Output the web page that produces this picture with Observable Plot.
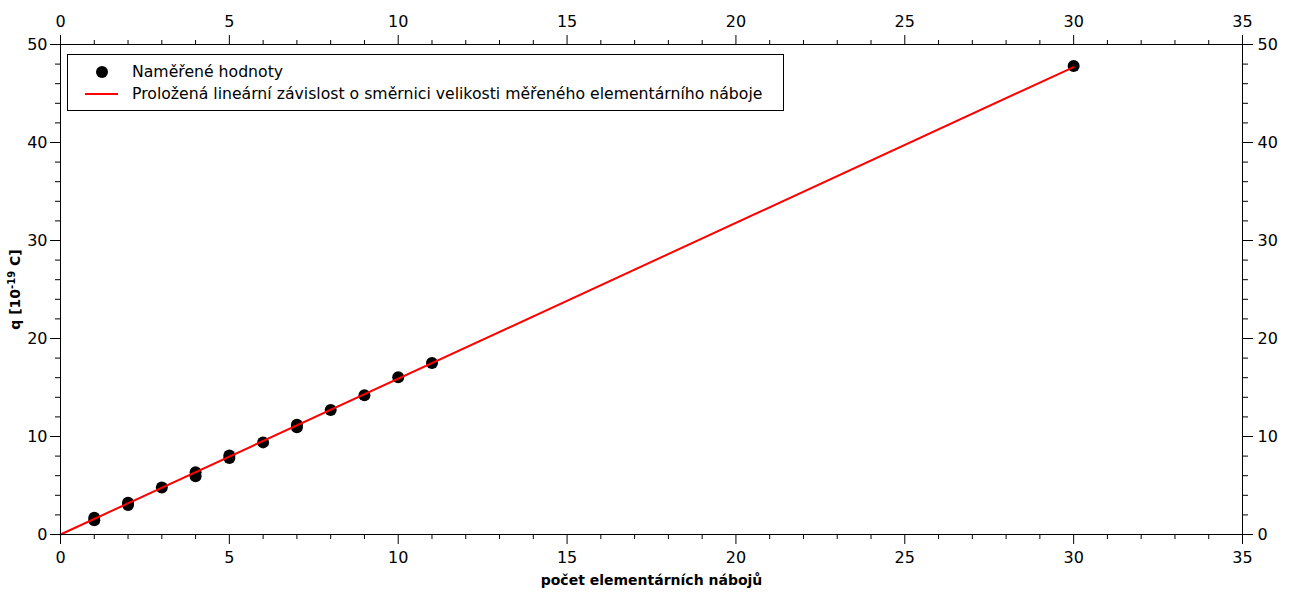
<!DOCTYPE html>
<html>
<head>
<meta charset="utf-8">
<script src="https://cdn.jsdelivr.net/npm/d3@7"></script>
<script src="https://cdn.jsdelivr.net/npm/@observablehq/plot@0.6"></script>
<style>
  body { margin: 0; background: #fff; }
  #wrap { position: relative; width: 1290px; height: 594px; }
  #legend { position: absolute; left: 67px; top: 54px; width: 717px; height: 57px; border: 1px solid #000;
            background: #fff; box-sizing: border-box; font-family: "DejaVu Sans", sans-serif; font-size: 15.7px; color: #000; }
  #legend .row { position: absolute; left: 0; height: 20px; line-height: 20px; }
  #legend .txt { position: absolute; left: 64px; white-space: nowrap; }
  #legend .dot { position: absolute; left: 28px; top: 4px; width: 12px; height: 12px; border-radius: 50%; background: #000; }
  #legend .ln { position: absolute; left: 17px; top: 9px; width: 33px; height: 2px; background: #ff0000; }
  svg text { font-family: "DejaVu Sans", sans-serif; }
  svg g[aria-label="x-axis tick label"], svg g[aria-label="y-axis tick label"] { font-size: 16px; }
  svg g[aria-label="x-axis label"], svg g[aria-label="y-axis label"] { font-weight: bold; font-size: 14px; }
</style>
</head>
<body>
<div id="wrap">
  <div id="chart"></div>
  <div id="legend"></div>
</div>
<script>
// measured data: number of elementary charges vs. charge q [1e-19 C]
const nCharges = [1, 1, 2, 2, 3, 4, 4, 5, 5, 6, 7, 7, 8, 9, 10, 11, 30];
const qValues  = [1.45, 1.7, 3.0, 3.25, 4.8, 5.95, 6.35, 7.8, 8.05, 9.4, 10.95, 11.2, 12.7, 14.2, 16.05, 17.5, 47.8];
// fitted linear dependence (slope = measured elementary charge)
const fitN = [0, 30];
const fitQ = [0, 47.7];
// ticks
const xTicks = [0, 5, 10, 15, 20, 25, 30, 35];
const xMinor = [1,2,3,4,6,7,8,9,11,12,13,14,16,17,18,19,21,22,23,24,26,27,28,29,31,32,33,34];
const yTicks = [0, 10, 20, 30, 40, 50];
const yMinor = [2,4,6,8,12,14,16,18,22,24,26,28,32,34,36,38,42,44,46,48];
const legendLabels = ["Naměřené hodnoty", "Proložená lineární závislost o směrnici velikosti měřeného elementárního náboje"];
const xLabel = "počet elementárních nábojů";
const yLabelBase = "q [10";
const yLabelExp = "-19";
const yLabelUnit = " C]";

const points = nCharges.map((n, i) => ({n, q: qValues[i]}));
const fit = fitN.map((n, i) => ({n, q: fitQ[i]}));

const major = {tickSize: 10, stroke: "#000"};
const plot = Plot.plot({
  width: 1290,
  height: 594,
  marginLeft: 60,
  marginRight: 48,
  marginTop: 44,
  marginBottom: 60,
  style: {fontFamily: "DejaVu Sans", fontSize: "16px", color: "#000", background: "#fff"},
  x: {domain: [0, 35]},
  y: {domain: [0, 50]},
  marks: [
    Plot.dot(points, {x: "n", y: "q", r: 6, fill: "#000", stroke: "none"}),
    Plot.line(fit, {x: "n", y: "q", stroke: "#ff0000", strokeWidth: 2}),
    Plot.frame({stroke: "#000"}),
    Plot.axisX({anchor: "bottom", ticks: xTicks, ...major, tickPadding: 7, label: xLabel, labelAnchor: "center", labelOffset: 50, labelArrow: false}),
    Plot.axisX({anchor: "top", ticks: xTicks, ...major, tickPadding: 8, label: null}),
    Plot.axisY({anchor: "left", ticks: yTicks, ...major, tickPadding: 3, label: yLabelBase + yLabelExp + yLabelUnit, labelAnchor: "center", labelOffset: 50, labelArrow: false}),
    Plot.axisY({anchor: "right", ticks: yTicks, ...major, tickPadding: 5, label: null}),
    Plot.axisX({anchor: "bottom", ticks: xMinor, tickSize: 5, tickFormat: () => "", label: null, stroke: "#000"}),
    Plot.axisX({anchor: "top", ticks: xMinor, tickSize: 5, tickFormat: () => "", label: null, stroke: "#000"}),
    Plot.axisY({anchor: "left", ticks: yMinor, tickSize: 5, tickFormat: () => "", label: null, stroke: "#000"}),
    Plot.axisY({anchor: "right", ticks: yMinor, tickSize: 5, tickFormat: () => "", label: null, stroke: "#000"})
  ]
});
document.getElementById("chart").appendChild(plot);

// render the exponent of the y label as a real superscript
const yl = plot.querySelector('g[aria-label="y-axis label"] text');
if (yl) {
  const ns = "http://www.w3.org/2000/svg";
  yl.textContent = "";
  const a = document.createElementNS(ns, "tspan"); a.textContent = yLabelBase;
  const b = document.createElementNS(ns, "tspan"); b.textContent = yLabelExp;
  b.setAttribute("dy", "-5"); b.setAttribute("font-size", "10");
  const c = document.createElementNS(ns, "tspan"); c.textContent = yLabelUnit;
  c.setAttribute("dy", "5");
  yl.append(a, b, c);
}

const legend = document.getElementById("legend");
legendLabels.forEach((lab, i) => {
  const row = document.createElement("div");
  row.className = "row";
  row.style.top = (7 + i * 22) + "px";
  row.style.width = "100%";
  const sym = document.createElement("div");
  sym.className = i === 0 ? "dot" : "ln";
  const t = document.createElement("div");
  t.className = "txt";
  t.textContent = lab;
  row.appendChild(sym);
  row.appendChild(t);
  legend.appendChild(row);
});
</script>
</body>
</html>
